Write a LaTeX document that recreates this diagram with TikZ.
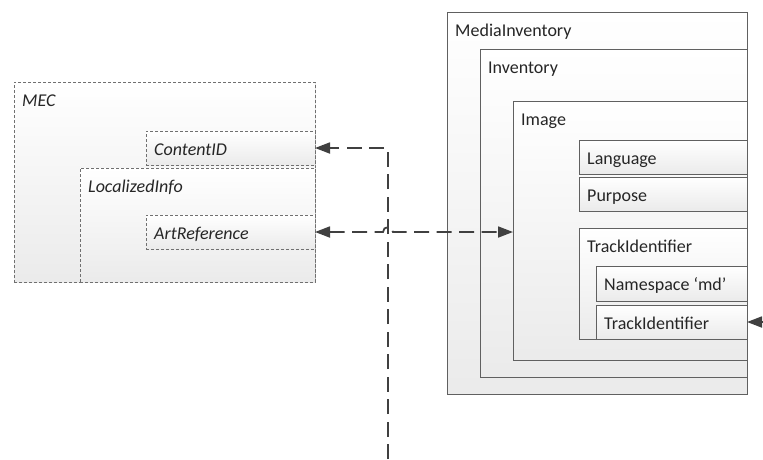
\documentclass[tikz,border=0pt]{standalone}
\usepackage{fontspec}
\setmainfont{Carlito}
\usetikzlibrary{arrows.meta,shadows}
\definecolor{conncol}{HTML}{404040}
\definecolor{solidcol}{HTML}{606060}
\definecolor{dashcol}{HTML}{707070}
\tikzset{
  boxbase/.style={rectangle, anchor=north west, inner sep=0pt, outer sep=0pt,
    top color=white, bottom color=black!8, line width=0.8pt,
    drop shadow={shadow xshift=1pt, shadow yshift=-1pt, opacity=0.2}},
  solidbox/.style={boxbase, draw=solidcol},
  dashbox/.style={boxbase, draw=dashcol, dash pattern=on 3pt off 2pt},
  lbl/.style={anchor=base west, inner sep=0pt, font=\fontsize{18}{20}\selectfont, text=black!85},
  ilbl/.style={lbl, font=\fontsize{18}{20}\selectfont\itshape},
  conn/.style={draw=conncol, fill=none, line width=1.8pt, dash pattern=on 15pt off 7.5pt}
}
\begin{document}
\begin{tikzpicture}[x=1pt,y=-1pt]
\useasboundingbox (0,0) rectangle (763,459);
% left (dashed) group
\node[dashbox, minimum width={301pt}, minimum height={200pt}] (mec) at (14,82) {};
\node[ilbl] (mec-l) at ([shift={(8pt,-24pt)}]mec.north west) {MEC};
\node[dashbox, minimum width={169pt}, minimum height={34pt}] (cid) at (146,131) {};
\node[ilbl] (cid-l) at ([shift={(8pt,-24pt)}]cid.north west) {ContentID};
\node[dashbox, minimum width={235pt}, minimum height={114pt}] (loc) at (80,168) {};
\node[ilbl] (loc-l) at ([shift={(8pt,-24pt)}]loc.north west) {LocalizedInfo};
\node[dashbox, minimum width={169pt}, minimum height={34pt}] (art) at (146,215) {};
\node[ilbl] (art-l) at ([shift={(8pt,-24pt)}]art.north west) {ArtReference};
% right (solid) group
\node[solidbox, minimum width={300pt}, minimum height={382pt}] (mi) at (447,12) {};
\node[lbl] (mi-l) at ([shift={(8pt,-24pt)}]mi.north west) {MediaInventory};
\node[solidbox, minimum width={267pt}, minimum height={328pt}] (inv) at (480,49) {};
\node[lbl] (inv-l) at ([shift={(8pt,-24pt)}]inv.north west) {Inventory};
\node[solidbox, minimum width={234pt}, minimum height={259pt}] (img) at (513,101) {};
\node[lbl] (img-l) at ([shift={(8pt,-24pt)}]img.north west) {Image};
\node[solidbox, minimum width={168pt}, minimum height={34pt}] (lang) at (579,140) {};
\node[lbl] (lang-l) at ([shift={(8pt,-24pt)}]lang.north west) {Language};
\node[solidbox, minimum width={168pt}, minimum height={34pt}] (purp) at (579,177) {};
\node[lbl] (purp-l) at ([shift={(8pt,-24pt)}]purp.north west) {Purpose};
\node[solidbox, minimum width={168pt}, minimum height={111pt}] (tid) at (579,228) {};
\node[lbl] (tid-l) at ([shift={(8pt,-24pt)}]tid.north west) {TrackIdentifier};
\node[solidbox, minimum width={151pt}, minimum height={35pt}] (ns) at (596,266) {};
\node[lbl] (ns-l) at ([shift={(8pt,-24pt)}]ns.north west) {Namespace ‘md’};
\node[solidbox, minimum width={151pt}, minimum height={34pt}] (tid2) at (596,305) {};
\node[lbl] (tid2-l) at ([shift={(8pt,-24pt)}]tid2.north west) {TrackIdentifier};
% connectors
\coordinate (vbot) at (388,459);
\coordinate (vtop) at (vbot |- cid.east);
\coordinate (rin) at (763,0);
\draw[conn, -{Triangle[length=15pt,width=11pt]}] (vbot) -- (vtop) -- (cid.east);
\draw[conn, {Triangle[length=15pt,width=11pt]}-{Triangle[length=15pt,width=11pt]}]
  (art.east) -- ([xshift=-5pt]vbot |- art.east) arc[start angle=180, end angle=0, radius=5pt] -- (img.west |- art.east);
\draw[conn, solid, -{Triangle[length=15pt,width=11pt]}] (rin |- tid2.east) -- (tid2.east);
\end{tikzpicture}
\end{document}
